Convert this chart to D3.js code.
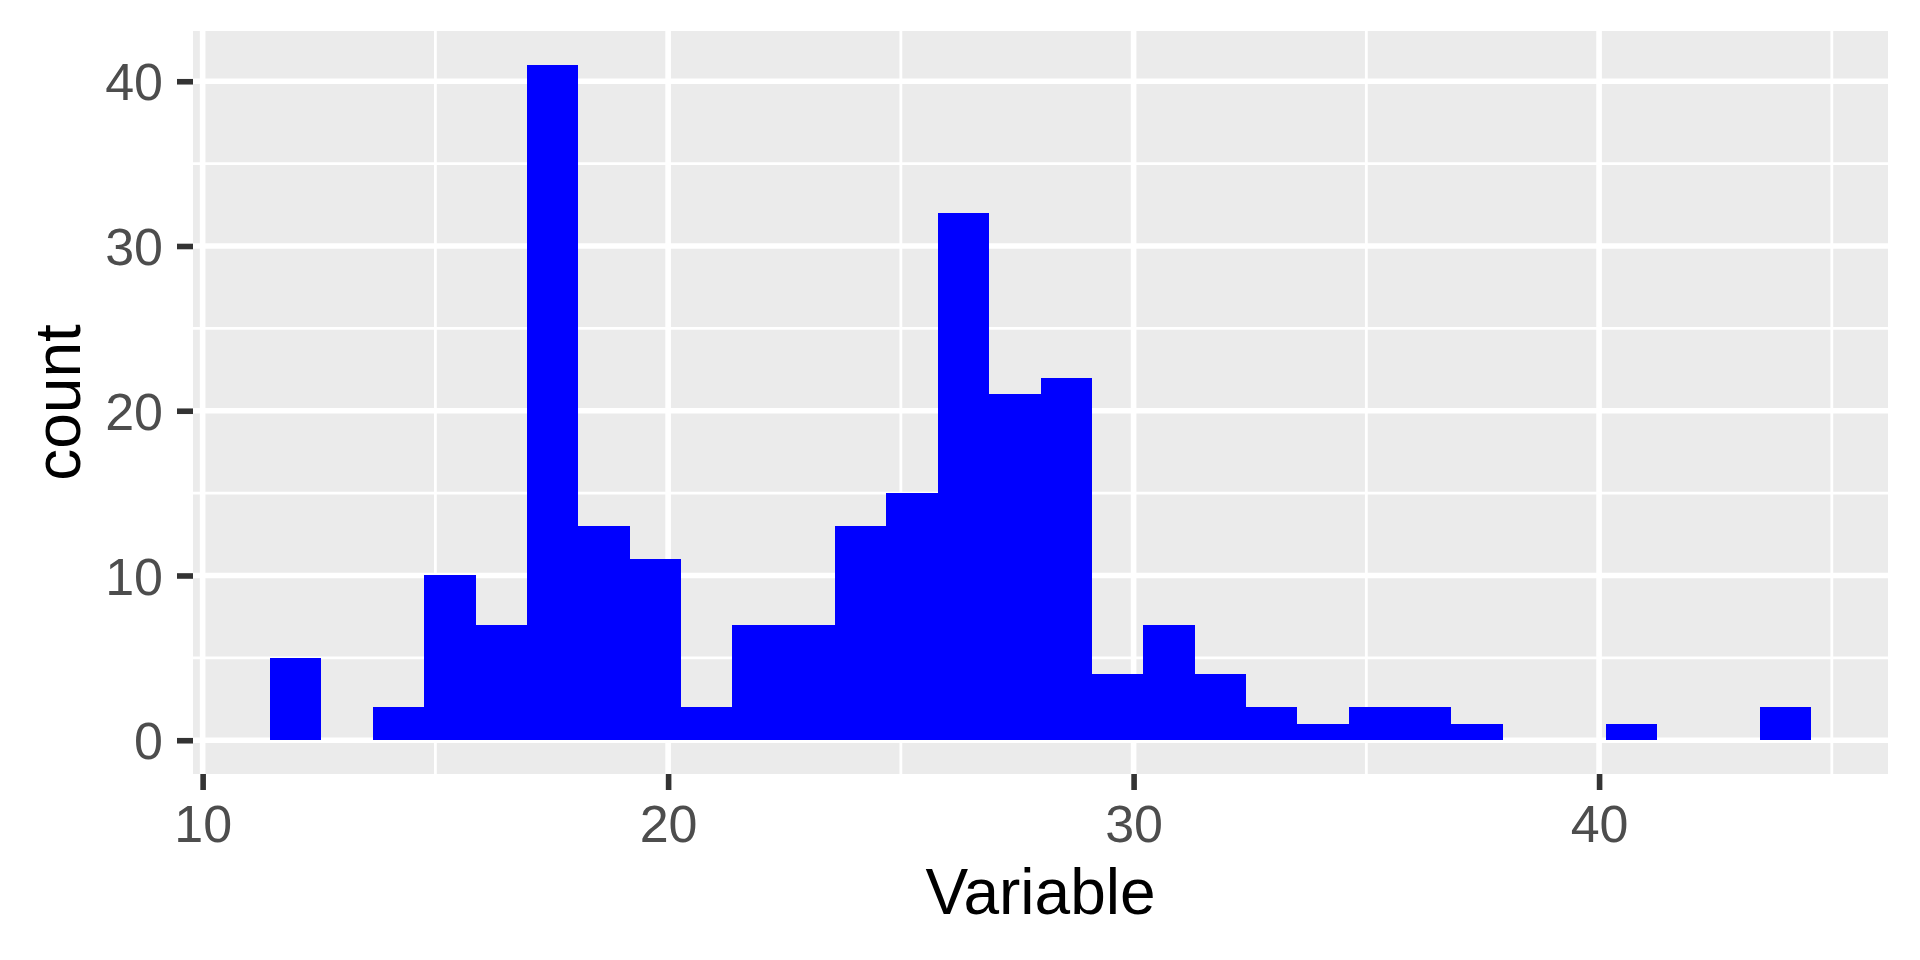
<!DOCTYPE html>
<html>
<head>
<meta charset="utf-8">
<script src="https://cdn.jsdelivr.net/npm/d3@7"></script>
<style>
  html, body { margin: 0; padding: 0; background: #ffffff; }
  svg { display: block; }
  text { font-family: "Liberation Sans", Arial, sans-serif; }
</style>
</head>
<body>
<svg id="chart" width="1920" height="960"></svg>
<script>
// ---- data ----
const counts = [5, 0, 2, 10, 7, 41, 13, 11, 2, 7, 7, 13, 15, 32, 21, 22, 4, 7, 4, 2, 1, 2, 2, 1, 0, 0, 1, 0, 0, 2];
const binWidth = 32 / 29;
const firstBinStart = 12 - binWidth / 2;
const xTicks = [10, 20, 30, 40];
const xMinor = [15, 25, 35, 45];
const yTicks = [0, 10, 20, 30, 40];
const yMinor = [5, 15, 25, 35];
const xTitle = "Variable";
const yTitle = "count";

// ---- layout ----
const W = 1920, H = 960;
const panel = { left: 193, right: 1888, top: 31, bottom: 774 };

const bins = counts.map((c, i) => ({
  x0: firstBinStart + i * binWidth,
  x1: firstBinStart + (i + 1) * binWidth,
  count: c
}));

const xMin = bins[0].x0, xMax = bins[bins.length - 1].x1;
const xPad = (xMax - xMin) * 0.05;
const yMaxData = d3.max(counts);
const yPad = yMaxData * 0.05;

const x = d3.scaleLinear().domain([xMin - xPad, xMax + xPad]).range([panel.left, panel.right]);
const y = d3.scaleLinear().domain([-yPad, yMaxData + yPad]).range([panel.bottom, panel.top]);

const svg = d3.select("#chart");

// panel background
svg.append("rect")
  .attr("x", panel.left).attr("y", panel.top)
  .attr("width", panel.right - panel.left)
  .attr("height", panel.bottom - panel.top)
  .attr("fill", "#EBEBEB");

const grid = svg.append("g");
// minor grid
grid.selectAll(".ymin").data(yMinor).join("line")
  .attr("x1", panel.left).attr("x2", panel.right)
  .attr("y1", d => y(d)).attr("y2", d => y(d))
  .attr("stroke", "#ffffff").attr("stroke-width", 2.8);
grid.selectAll(".xmin").data(xMinor.filter(d => x(d) < panel.right)).join("line")
  .attr("y1", panel.top).attr("y2", panel.bottom)
  .attr("x1", d => x(d)).attr("x2", d => x(d))
  .attr("stroke", "#ffffff").attr("stroke-width", 2.8);
// major grid
grid.selectAll(".ymaj").data(yTicks).join("line")
  .attr("x1", panel.left).attr("x2", panel.right)
  .attr("y1", d => y(d)).attr("y2", d => y(d))
  .attr("stroke", "#ffffff").attr("stroke-width", 5.6);
grid.selectAll(".xmaj").data(xTicks).join("line")
  .attr("y1", panel.top).attr("y2", panel.bottom)
  .attr("x1", d => x(d)).attr("x2", d => x(d))
  .attr("stroke", "#ffffff").attr("stroke-width", 5.6);

// bars
svg.append("g").selectAll("rect").data(bins.filter(b => b.count > 0)).join("rect")
  .attr("x", d => x(d.x0))
  .attr("width", d => x(d.x1) - x(d.x0))
  .attr("y", d => y(d.count))
  .attr("height", d => y(0) - y(d.count))
  .attr("fill", "#0000FF")
  .attr("shape-rendering", "crispEdges");

// axes
const xAxis = d3.axisBottom(x).tickValues(xTicks).tickSize(16).tickPadding(12).tickFormat(d3.format("d"));
const gx = svg.append("g").attr("transform", `translate(0,${panel.bottom})`).call(xAxis);
gx.select(".domain").remove();
gx.selectAll(".tick line").attr("stroke", "#333333").attr("stroke-width", 5.6);
gx.selectAll(".tick text")
  .attr("fill", "#4D4D4D").attr("font-size", 52)
  .attr("dy", null).attr("y", 68);

const yAxis = d3.axisLeft(y).tickValues(yTicks).tickSize(16).tickPadding(14).tickFormat(d3.format("d"));
const gy = svg.append("g").attr("transform", `translate(${panel.left},0)`).call(yAxis);
gy.select(".domain").remove();
gy.selectAll(".tick line").attr("stroke", "#333333").attr("stroke-width", 5.6);
gy.selectAll(".tick text")
  .attr("fill", "#4D4D4D").attr("font-size", 52)
  .attr("dy", "0.36em");

// titles
svg.append("text")
  .attr("x", (panel.left + panel.right) / 2).attr("y", 914)
  .attr("text-anchor", "middle").attr("font-size", 64).attr("fill", "#000000")
  .text(xTitle);

svg.append("text")
  .attr("transform", `translate(80,${(panel.top + panel.bottom) / 2}) rotate(-90)`)
  .attr("text-anchor", "middle").attr("font-size", 64).attr("fill", "#000000")
  .text(yTitle);
</script>
</body>
</html>
